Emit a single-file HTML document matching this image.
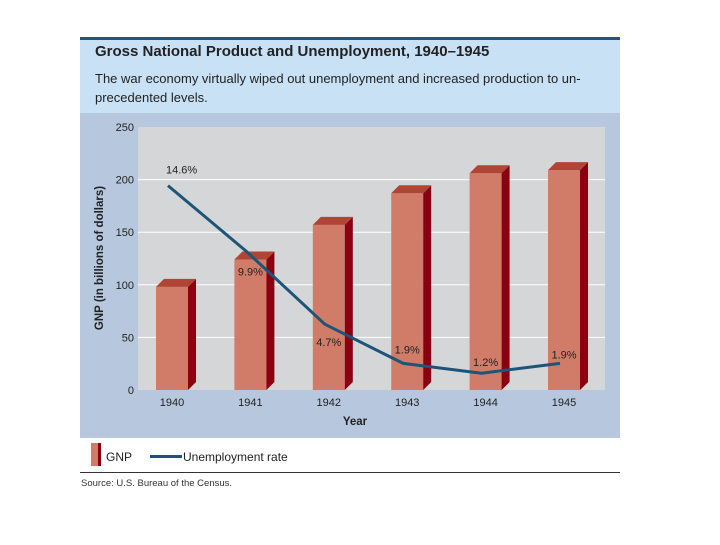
<!DOCTYPE html>
<html><head><meta charset="utf-8"><style>
body{margin:0;background:#fff;width:720px;height:540px;overflow:hidden;font-family:"Liberation Sans",sans-serif}
</style></head><body>
<svg width="720" height="540" xmlns="http://www.w3.org/2000/svg">
<rect x="80" y="37" width="540" height="3" fill="#2c4f86"/>
<rect x="80" y="40" width="540" height="73" fill="#c9e1f5"/>
<text x="95" y="56" font-size="15" font-weight="bold" fill="#222">Gross National Product and Unemployment, 1940–1945</text>
<text x="95" y="83" font-size="13" fill="#222">The war economy virtually wiped out unemployment and increased production to un-</text>
<text x="95" y="102" font-size="13" fill="#222">precedented levels.</text>
<rect x="80" y="113" width="540" height="325" fill="#b7c8de"/>
<rect x="138" y="127" width="467" height="263" fill="#d5d6d8"/>
<g id="grid"></g>
<g id="bars"></g>
<path id="line" fill="none" stroke="#1d5478" stroke-width="3" stroke-linejoin="round"/>
<g id="labels"></g>
<text transform="translate(103,258) rotate(-90)" text-anchor="middle" font-size="11.5" font-weight="bold" fill="#222">GNP (in billions of dollars)</text>
<text x="355" y="425" text-anchor="middle" font-size="11.5" font-weight="bold" fill="#222">Year</text>
<g>
<rect x="91" y="443" width="7" height="23" fill="#d17a68"/>
<rect x="98" y="443" width="3" height="23" fill="#8b0010"/>
<text x="106" y="461" font-size="12" fill="#222">GNP</text>
<rect x="150" y="455" width="32" height="3" fill="#1d5478"/>
<text x="183" y="461" font-size="12" fill="#222">Unemployment rate</text>
</g>
<rect x="80" y="472" width="540" height="1" fill="#333"/>
<text x="81" y="486" font-size="9.5" fill="#333">Source: U.S. Bureau of the Census.</text>
</svg>
<script>
const years=["1940","1941","1942","1943","1944","1945"];
const gnp=[98,124,157,187,206,209];
const unemp=[14.6,9.9,4.7,1.9,1.2,1.9];
const unempLabels=["14.6%","9.9%","4.7%","1.9%","1.2%","1.9%"];
const yTicks=[0,50,100,150,200,250];
const NS="http://www.w3.org/2000/svg";
const yS=v=>390-v*263/250;
const xS=i=>172+i*78.4;
const uS=v=>390-v*14;
function mk(t,a,p){const e=document.createElementNS(NS,t);for(const k in a)e.setAttribute(k,a[k]);p.appendChild(e);return e;}
const grid=document.getElementById('grid'),bars=document.getElementById('bars'),labels=document.getElementById('labels');
yTicks.forEach(t=>{
 if(t>0&&t<250){const l=mk('line',{x1:138,x2:605,y1:yS(t),y2:yS(t),stroke:'#fff','stroke-width':1},grid);
 
 }
 const tx=mk('text',{x:134,y:yS(t)+4,'text-anchor':'end','font-size':11,fill:'#222'},grid);tx.textContent=t;
 
 
});
gnp.forEach((v,i)=>{
 const x=xS(i)-16,w=32,d=8,y=yS(v);
 const g=mk('g',{},bars);
 
 
 mk('rect',{x:x,y:y,width:w,height:390-y,fill:'#d17c69'},g);
 mk('polygon',{points:`${x+w},${y} ${x+w+d},${y-d} ${x+w+d},${390-d} ${x+w},390`,fill:'#8a0012'},g);
 mk('polygon',{points:`${x},${y} ${x+d},${y-d} ${x+w+d},${y-d} ${x+w},${y}`,fill:'#b04535'},g);
 const t=mk('text',{x:xS(i),y:406,'text-anchor':'middle','font-size':11,fill:'#222'},labels);t.textContent=years[i];
 
 
});
const pts=unemp.map((v,i)=>[xS(i)-4,uS(v)]);
let d=`M${pts[0][0]},${pts[0][1]}`;
for(let i=1;i<pts.length;i++){d+=` L${pts[i][0]},${pts[i][1]}`;}
document.getElementById('line').setAttribute('d',d);
const off=[[-2,-12],[0,24],[0,22],[0,-10],[0,-7],[0,-5]];
unemp.forEach((v,i)=>{
 const t=mk('text',{x:pts[i][0]+off[i][0]+(i==0?0:4),y:pts[i][1]+off[i][1],'text-anchor':i==0?'start':'middle','font-size':11,fill:'#222'},labels);
 t.textContent=unempLabels[i];
 
 
});
</script>
</body></html>
